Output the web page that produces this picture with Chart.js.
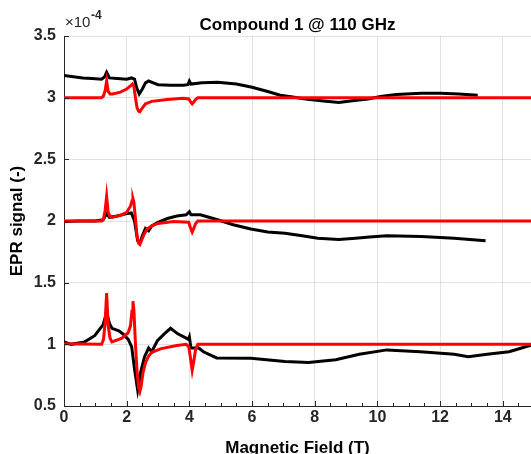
<!DOCTYPE html>
<html>
<head>
<meta charset="utf-8">
<script src="https://cdn.jsdelivr.net/npm/chart.js@4"></script>
<style>
  body { margin: 0; background: #fff; }
  canvas { display: block; }
</style>
</head>
<body>
<canvas id="epr" width="531" height="454"></canvas>
<script>
// tick labels
const fieldTicks = [0, 2, 4, 6, 8, 10, 12, 14];
const signalTicks = [0.5, 1, 1.5, 2, 2.5, 3, 3.5];

// experiment, offset 3 (x1e-4)
const exp3Field = [0, 0.3, 0.6, 0.9, 1.2, 1.3, 1.36, 1.45, 1.7, 2.0, 2.15, 2.25, 2.32, 2.4, 2.5, 2.6, 2.7, 2.85, 3.0, 3.4, 3.8, 3.95, 4.0, 4.05, 4.4, 4.9, 5.5, 6.0, 6.5, 6.9, 7.3, 7.7, 8.2, 8.77, 9.2, 9.7, 10.1, 10.6, 11.4, 12.0, 12.6, 13.2];
const exp3Signal = [3.18, 3.17, 3.16, 3.155, 3.15, 3.17, 3.205, 3.16, 3.155, 3.15, 3.16, 3.15, 3.08, 3.03, 3.07, 3.12, 3.135, 3.12, 3.105, 3.10, 3.10, 3.105, 3.135, 3.11, 3.12, 3.125, 3.11, 3.085, 3.05, 3.02, 3.005, 2.99, 2.975, 2.96, 2.975, 2.99, 3.01, 3.025, 3.035, 3.035, 3.03, 3.02];

// simulation, offset 3
const sim3Field = [0, 1.2, 1.26, 1.31, 1.36, 1.41, 1.47, 1.55, 1.8, 2.0, 2.12, 2.18, 2.23, 2.28, 2.33, 2.38, 2.42, 2.48, 2.6, 2.8, 3.3, 3.8, 3.98, 4.03, 4.09, 4.14, 4.2, 4.27, 15];
const sim3Signal = [3.0, 3.0, 3.015, 3.055, 3.135, 3.05, 3.03, 3.03, 3.045, 3.07, 3.095, 3.11, 3.09, 3.0, 2.92, 2.89, 2.885, 2.91, 2.95, 2.97, 2.985, 2.995, 2.99, 2.97, 2.95, 2.965, 2.985, 3.0, 3.0];

// experiment, offset 2
const exp2Field = [0, 0.5, 1.0, 1.25, 1.36, 1.45, 1.7, 2.0, 2.15, 2.25, 2.35, 2.42, 2.5, 2.6, 2.7, 2.8, 3.0, 3.3, 3.6, 3.9, 4.0, 4.05, 4.35, 4.9, 5.4, 5.96, 6.5, 7.05, 7.6, 8.1, 8.77, 9.3, 9.75, 10.3, 11.4, 12.45, 13.45];
const exp2Signal = [1.995, 2.0, 2.0, 2.01, 2.06, 2.03, 2.04, 2.06, 2.065, 2.0, 1.84, 1.82, 1.88, 1.94, 1.92, 1.96, 1.99, 2.02, 2.04, 2.05, 2.075, 2.05, 2.05, 2.01, 1.97, 1.935, 1.91, 1.9, 1.88, 1.86, 1.85, 1.86, 1.87, 1.88, 1.875, 1.86, 1.84];

// simulation, offset 2
const sim2Field = [0, 1.2, 1.26, 1.31, 1.36, 1.41, 1.47, 1.55, 1.8, 2.0, 2.12, 2.17, 2.2, 2.23, 2.28, 2.33, 2.38, 2.42, 2.47, 2.55, 2.65, 2.8, 3.0, 3.5, 3.98, 4.03, 4.09, 4.14, 4.2, 4.27, 15];
const sim2Signal = [2.0, 2.0, 2.02, 2.08, 2.2, 2.07, 2.035, 2.03, 2.045, 2.07, 2.12, 2.165, 2.18, 2.15, 2.02, 1.88, 1.82, 1.81, 1.84, 1.89, 1.935, 1.96, 1.98, 1.995, 1.99, 1.95, 1.91, 1.94, 1.98, 2.0, 2.0];

// experiment, offset 1
const exp1Field = [0, 0.23, 0.66, 0.98, 1.25, 1.36, 1.45, 1.53, 1.75, 1.9, 2.05, 2.16, 2.25, 2.35, 2.45, 2.57, 2.7, 2.8, 2.98, 3.2, 3.4, 3.63, 3.9, 3.97, 4.0, 4.05, 4.3, 4.45, 4.87, 5.96, 7.05, 7.8, 8.67, 9.42, 10.3, 11.37, 12.45, 12.9, 13.5, 14.2, 14.6, 15];
const exp1Signal = [1.02, 1.0, 1.02, 1.07, 1.16, 1.26, 1.17, 1.13, 1.11, 1.08, 1.04, 0.98, 0.8, 0.63, 0.78, 0.9, 0.97, 0.94, 1.03, 1.085, 1.13, 1.085, 1.05, 1.04, 1.06, 0.97, 0.97, 0.94, 0.89, 0.888, 0.86, 0.852, 0.875, 0.92, 0.955, 0.94, 0.92, 0.9, 0.92, 0.94, 0.97, 1.0];

// simulation, offset 1
const sim1Field = [0, 1.2, 1.26, 1.31, 1.36, 1.41, 1.47, 1.53, 1.85, 2.05, 2.12, 2.17, 2.2, 2.23, 2.28, 2.33, 2.38, 2.42, 2.46, 2.52, 2.6, 2.7, 2.8, 3.1, 3.6, 3.9, 3.98, 4.03, 4.09, 4.14, 4.2, 4.27, 15];
const sim1Signal = [1.005, 1.0, 1.04, 1.17, 1.415, 1.15, 1.05, 1.02, 1.05, 1.095, 1.15, 1.27, 1.35, 1.28, 1.0, 0.78, 0.65, 0.617, 0.66, 0.77, 0.85, 0.905, 0.935, 0.965, 0.99, 1.0, 0.98, 0.9, 0.79, 0.86, 0.96, 1.0, 1.0];

const FONT = "'Liberation Sans', Arial, sans-serif";
const AXIS = "#262626";

function pairs(xs, ys) {
  return xs.map((x, i) => ({ x: x, y: ys[i] }));
}

function line(xs, ys, color) {
  return {
    data: pairs(xs, ys),
    borderColor: color,
    borderWidth: 3,
    pointRadius: 0,
    tension: 0,
    fill: false
  };
}

// MATLAB style: inward ticks and the x10^-4 exponent
const matlabBits = {
  id: "matlabBits",
  afterDraw(chart) {
    const ctx = chart.ctx;
    const a = chart.chartArea;
    const xs = chart.scales.x;
    const ys = chart.scales.y;
    ctx.save();
    ctx.strokeStyle = AXIS;
    ctx.lineWidth = 1;
    ctx.beginPath();
    for (let v = 0; v <= 14.9; v += 0.5) {
      const px = Math.round(xs.getPixelForValue(v)) + 0.5;
      const len = v % 2 === 0 ? 5 : 3;
      ctx.moveTo(px, a.bottom);
      ctx.lineTo(px, a.bottom - len);
    }
    signalTicks.forEach(v => {
      const py = Math.round(ys.getPixelForValue(v)) + 0.5;
      ctx.moveTo(a.left, py);
      ctx.lineTo(a.left + 5, py);
    });
    ctx.stroke();

    ctx.fillStyle = AXIS;
    ctx.textBaseline = "alphabetic";
    ctx.font = "15px " + FONT;
    ctx.fillText("\u00d710", 65, 27);
    ctx.font = "bold 12px " + FONT;
    ctx.fillText("-4", 91, 19);
    ctx.restore();
  }
};

new Chart(document.getElementById("epr"), {
  type: "line",
  data: {
    datasets: [
      line(sim3Field, sim3Signal, "#ff0000"),
      line(sim2Field, sim2Signal, "#ff0000"),
      line(sim1Field, sim1Signal, "#ff0000"),
      line(exp3Field, exp3Signal, "#000000"),
      line(exp2Field, exp2Signal, "#000000"),
      line(exp1Field, exp1Signal, "#000000")
    ]
  },
  options: {
    responsive: false,
    animation: false,
    devicePixelRatio: 1,
    layout: { padding: 0 },
    plugins: {
      legend: { display: false },
      tooltip: { enabled: false },
      title: {
        display: true,
        text: "Compound 1 @ 110 GHz",
        fullSize: false,
        color: "#000",
        font: { family: FONT, size: 17, weight: "bold" },
        padding: { top: 15.3, bottom: 0.3 }
      }
    },
    scales: {
      x: {
        type: "linear",
        min: 0,
        max: 14.9,
        afterBuildTicks: s => { s.ticks = fieldTicks.map(v => ({ value: v })); },
        afterFit: s => { s.height = 48; },
        grid: { color: "rgba(38,38,38,0.13)", drawTicks: false },
        border: { color: AXIS, width: 1 },
        ticks: {
          padding: 2,
          color: AXIS,
          font: { family: FONT, size: 16, weight: "bold" },
          maxRotation: 0
        },
        title: {
          display: true,
          text: "Magnetic Field (T)",
          color: "#000",
          font: { family: FONT, size: 17, weight: "bold" },
          padding: { top: 0, bottom: -4.9 }
        }
      },
      y: {
        type: "linear",
        min: 0.5,
        max: 3.5,
        afterBuildTicks: s => { s.ticks = signalTicks.map(v => ({ value: v })); },
        afterFit: s => { s.width = 64; },
        grid: { color: "rgba(38,38,38,0.13)", drawTicks: false },
        border: { color: AXIS, width: 1 },
        ticks: {
          padding: 8,
          color: AXIS,
          font: { family: FONT, size: 16, weight: "bold" },
          callback: v => String(v)
        },
        title: {
          display: true,
          text: "EPR signal (-)",
          color: "#000",
          font: { family: FONT, size: 17, weight: "bold" },
          padding: { top: 6.8, bottom: 0 }
        }
      }
    }
  },
  plugins: [matlabBits]
});
</script>
</body>
</html>
